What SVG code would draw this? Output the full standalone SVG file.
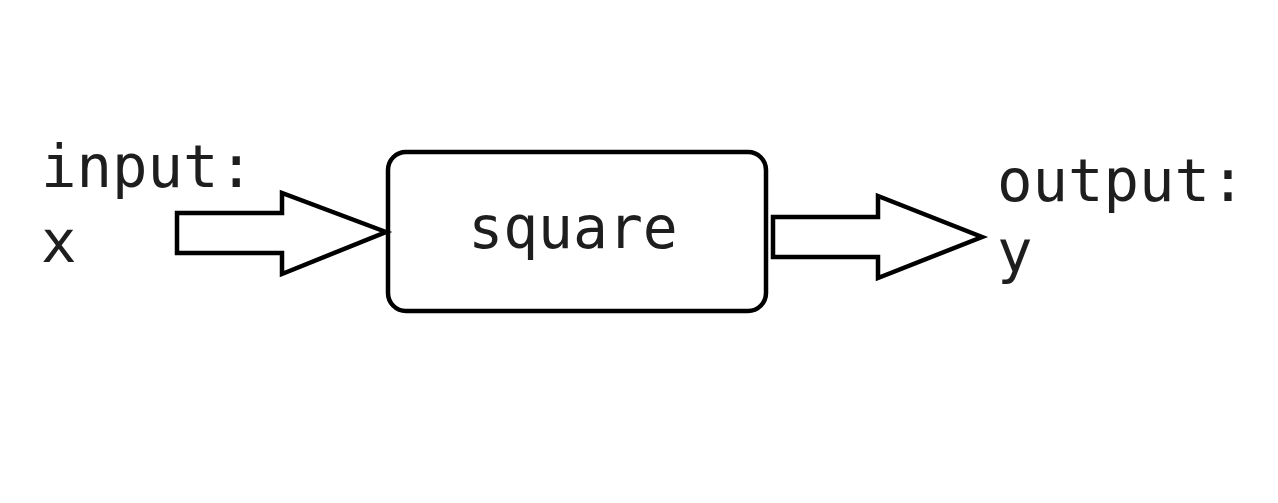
<svg xmlns="http://www.w3.org/2000/svg" width="1278" height="503" viewBox="0 0 1278 503">
<style>
.t{font-family:"DejaVu Sans Mono","Liberation Mono",monospace;font-size:59px;fill:#1e1e1e}
.s{fill:#fff;stroke:#000;stroke-width:4.5;stroke-linejoin:miter}
</style>
<rect width="1278" height="503" fill="#fff"/>
<g id="input">
<text class="t" x="41" y="187">input:</text>
<text class="t" x="41" y="262">x</text>
</g>
<g id="square">
<rect class="s" x="388" y="152" width="378" height="159" rx="18"/>
<text class="t" x="573" y="248" text-anchor="middle" style="font-size:58px">square</text>
</g>
<g id="output">
<text class="t" x="997" y="201">output:</text>
<text class="t" x="997" y="272">y</text>
</g>
<g id="connectors">
<polygon class="s" points="177,213 282,213 282,193 386,232 282,274 282,253 177,253"/>
<polygon class="s" points="773,217 878,217 878,196 982,237 878,278 878,257 773,257"/>
</g>
</svg>
